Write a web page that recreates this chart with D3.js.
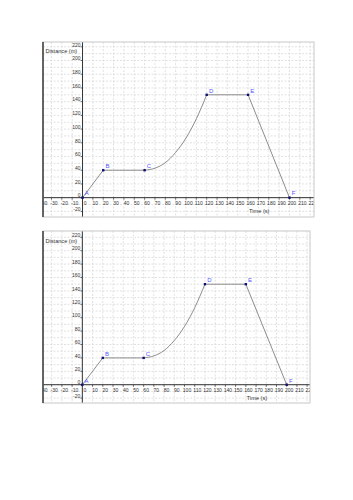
<!DOCTYPE html>
<html><head><meta charset="utf-8">
<script src="https://cdn.jsdelivr.net/npm/d3@7"></script>
<style>body{margin:0;background:#fff}svg{display:block}</style>
</head><body>
<svg id="c" width="353" height="500"></svg>
<script>
// ---- data ----
const pointNames = ["A","B","C","D","E","F"];
const pointTimes = [0, 20, 60, 120, 160, 200];
const pointDists = [0, 40, 40, 150, 150, 0];
// curved segment C -> D
const curveTimes = [60, 70, 80, 90, 100, 110, 120];
const curveDists = [40, 43, 51, 66, 87, 115, 150];
const xTickValues = d3.range(-40, 230, 10);
const yLabelValues = d3.range(-20, 240, 20);
const yGridValues = d3.range(-20, 240, 10);
const xTitle = "Time (s)";
const yTitle = "Distance (m)";

const svg = d3.select("#c");
const panels = [
  {id:"p1", left:43, top:42, right:314, bottom:217, x0:-38.2, x1:223.7, y0:-28.2, y1:227},
  {id:"p2", left:43, top:231, right:310, bottom:403, x0:-38.5, x1:222.8, y0:-27.3, y1:229.4}
];
const FONT = "Liberation Sans, Arial, sans-serif";

panels.forEach(p => {
  const x = d3.scaleLinear().domain([p.x0, p.x1]).range([p.left, p.right]);
  const y = d3.scaleLinear().domain([p.y0, p.y1]).range([p.bottom, p.top]);
  svg.append("clipPath").attr("id", "clip-" + p.id)
    .append("rect").attr("x", p.left).attr("y", p.top)
    .attr("width", p.right - p.left).attr("height", p.bottom - p.top);
  const g = svg.append("g").attr("clip-path", `url(#clip-${p.id})`);
  g.append("rect").attr("x", p.left).attr("y", p.top)
    .attr("width", p.right - p.left).attr("height", p.bottom - p.top).attr("fill", "#fff");
  // grid
  g.selectAll(".vg").data(xTickValues).join("line")
    .attr("x1", d => x(d)).attr("x2", d => x(d)).attr("y1", p.top).attr("y2", p.bottom)
    .attr("stroke", "#d9d9d9").attr("stroke-width", 0.8).attr("stroke-dasharray", "2,1.5");
  g.selectAll(".hg").data(yGridValues).join("line")
    .attr("y1", d => y(d)).attr("y2", d => y(d)).attr("x1", p.left).attr("x2", p.right)
    .attr("stroke", "#d9d9d9").attr("stroke-width", 0.8).attr("stroke-dasharray", "2,1.5");
  // axes
  g.append("line").attr("x1", p.left).attr("x2", p.right).attr("y1", y(0)).attr("y2", y(0))
    .attr("stroke", "#333").attr("stroke-width", 1);
  g.append("line").attr("x1", x(0)).attr("x2", x(0)).attr("y1", p.top).attr("y2", p.bottom)
    .attr("stroke", "#333").attr("stroke-width", 1);
  g.selectAll(".xt").data(xTickValues).join("line")
    .attr("x1", d => x(d)).attr("x2", d => x(d)).attr("y1", y(0)).attr("y2", y(0) + 2)
    .attr("stroke", "#333").attr("stroke-width", 0.7);
  g.selectAll(".yt").data(yLabelValues).join("line")
    .attr("x1", x(0) - 2).attr("x2", x(0)).attr("y1", d => y(d)).attr("y2", d => y(d))
    .attr("stroke", "#333").attr("stroke-width", 0.7);
  // tick labels
  g.selectAll(".xl").data(xTickValues).join("text")
    .attr("x", d => x(d) + 2.5).attr("y", y(0) + 7)
    .attr("text-anchor", "middle").attr("font-family", FONT)
    .attr("font-size", 5).attr("fill", "#333").text(d => d);
  g.selectAll(".yl").data(yLabelValues).join("text")
    .attr("x", x(0) - 2).attr("y", d => y(d) - 0.3)
    .attr("text-anchor", "end").attr("font-family", FONT)
    .attr("font-size", 5).attr("fill", "#333").text(d => d);
  // titles
  g.append("text").attr("x", p.left + 2.5).attr("y", y(211))
    .attr("font-family", FONT).attr("font-size", 5.6).attr("fill", "#333")
    .text(yTitle);
  g.append("text").attr("x", x(161)).attr("y", y(0) + 15.5)
    .attr("font-family", FONT).attr("font-size", 5.6).attr("fill", "#333")
    .text(xTitle);
  // graph lines
  const lineGen = d3.line().x(d => x(d[0])).y(d => y(d[1]));
  const curveGen = d3.line().x(d => x(d[0])).y(d => y(d[1])).curve(d3.curveMonotoneX);
  const pts = pointTimes.map((t, i) => [t, pointDists[i]]);
  const curvePts = curveTimes.map((t, i) => [t, curveDists[i]]);
  [lineGen(pts.slice(0, 3)), curveGen(curvePts), lineGen(pts.slice(3))].forEach(dStr =>
    g.append("path").attr("d", dStr).attr("fill", "none").attr("stroke", "#808080").attr("stroke-width", 0.9));
  // points
  g.selectAll(".pt").data(pts).join("rect")
    .attr("x", d => x(d[0]) - 1.2).attr("y", d => y(d[1]) - 1.2)
    .attr("width", 2.4).attr("height", 2.4).attr("fill", "#101070");
  g.selectAll(".pl").data(pts).join("text")
    .attr("x", d => x(d[0]) + 2.2).attr("y", d => y(d[1]) - 2.2)
    .attr("font-family", FONT).attr("font-size", 6)
    .attr("fill", "#5555ff").text((d, i) => pointNames[i]);
  // frame
  svg.append("rect").attr("x", p.left).attr("y", p.top)
    .attr("width", p.right - p.left).attr("height", p.bottom - p.top)
    .attr("fill", "none").attr("stroke", "#c8c8c8").attr("stroke-width", 1);
  svg.append("line").attr("x1", p.left).attr("x2", p.left).attr("y1", p.top).attr("y2", p.bottom)
    .attr("stroke", "#444").attr("stroke-width", 1.6);
});
</script>
</body></html>
